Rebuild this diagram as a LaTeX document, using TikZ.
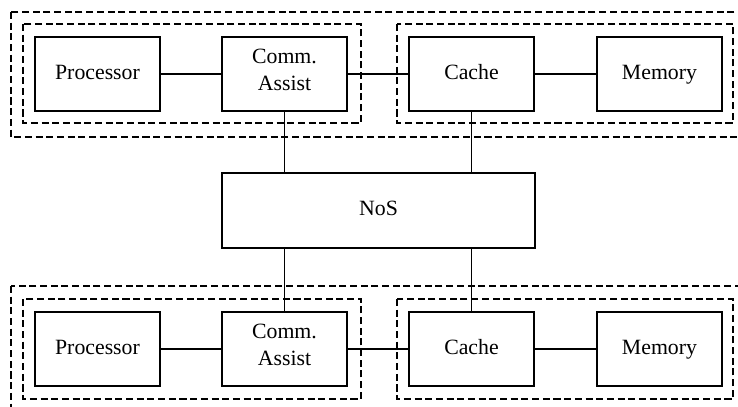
\documentclass[tikz,border=0pt]{standalone}
\usepackage{fontspec}
\setmainfont{Liberation Serif}
\newfontfamily\boxfont{Liberation Serif}
\usetikzlibrary{calc}
\tikzstyle{every node}=[font=\boxfont\fontsize{15.5}{19.5}\selectfont]
\tikzstyle{unit}=[draw, line width=1.8pt, minimum width=3.125cm, minimum height=1.85cm, align=center, inner sep=0pt, execute at begin node=\strut]
\tikzstyle{group}=[line width=1.1pt, dash pattern=on 5pt off 2.6pt]
\tikzstyle{wire}=[line width=0.8pt]

\begin{document}
\begin{tikzpicture}[x=0.025cm, y=-0.025cm]
            \def\rowa{74}
            \def\rowb{349}

            \useasboundingbox (0,0) rectangle (738,407);
            \clip (0,0) rectangle (738,407);

            % upper node
            \node[unit] (proc1) at (97.5,\rowa) {Processor};
            \node[unit] (comm1) at (284.5,\rowa) {Comm.\\Assist};
            \node[unit] (cache1) at (471.5,\rowa) {Cache};
            \node[unit] (mem1) at (659.5,\rowa) {Memory};

            % lower node
            \node[unit] (proc2) at (97.5,\rowb) {Processor};
            \node[unit] (comm2) at (284.5,\rowb) {Comm.\\Assist};
            \node[unit] (cache2) at (471.5,\rowb) {Cache};
            \node[unit] (mem2) at (659.5,\rowb) {Memory};

            \node[unit, minimum width=7.825cm, minimum height=1.875cm] (nos) at (378.5,210.5) {NoS};

            % dashed groups
            \draw[group] (11,12) rectangle (750,137);
            \draw[group] (23,24) rectangle (361,123);
            \draw[group] (397,24) rectangle (733,123);

            \draw[group] (11,286) rectangle (750,420);
            \draw[group] (23,299) rectangle (361,399);
            \draw[group] (397,299) rectangle (733,399);

            % links
            \draw[wire] (proc1) -- (comm1);
            \draw[wire] (comm1) -- (cache1);
            \draw[wire] (cache1) -- (mem1);
            \draw[wire] (proc2) -- (comm2);
            \draw[wire] (comm2) -- (cache2);
            \draw[wire] (cache2) -- (mem2);

            \draw[wire] (comm1.south) -- (comm1.south |- nos.north);
            \draw[wire] (cache1.south) -- (cache1.south |- nos.north);
            \draw[wire] (comm2.north) -- (comm2.north |- nos.south);
            \draw[wire] (cache2.north) -- (cache2.north |- nos.south);
        \end{tikzpicture}
\end{document}
